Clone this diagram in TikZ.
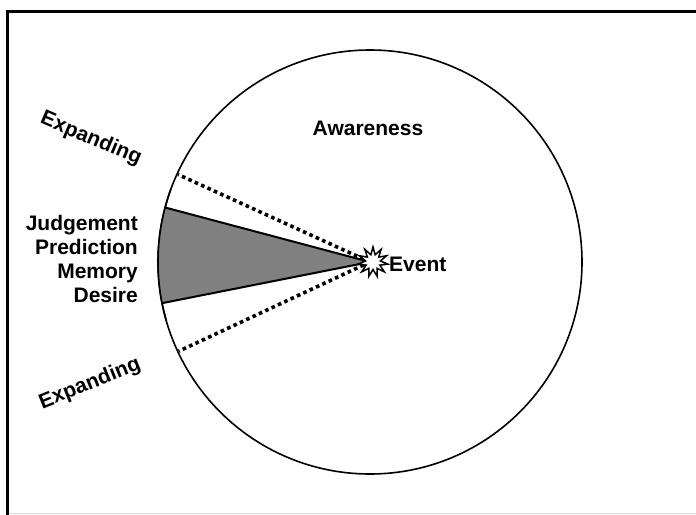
\documentclass[tikz,border=0pt]{standalone}
\usepackage{fontspec}
\setmainfont{Liberation Sans}
\usetikzlibrary{shapes.geometric,calc}
\tikzset{
  lbl/.style={font=\bfseries\fontsize{21}{23.7}\selectfont, inner sep=0pt},
  dotline/.style={line width=3.6pt, dash pattern=on 3.6pt off 3.4pt},
  solidline/.style={line width=2pt},
}
\begin{document}
\begin{tikzpicture}[x=1pt,y=-1pt]
\useasboundingbox (0,0) rectangle (696,514);
\clip (0,0) rectangle (696,514);
% frame
\draw[black!15, line width=1pt] (7,513) -- (700,513);
\draw[line width=3pt] (700,11) -- (7,11) -- (7,520);
% circle
\coordinate (c) at (370,262);
\node[circle, draw, line width=1.6pt, minimum size=424pt, inner sep=0pt] (aw) at (c) {};
% wedge (angles in flipped y system)
\fill[gray!75!black!80] (c) -- ($(c)+(194.9:212)$) arc[start angle=194.9, end angle=168.8, radius=212] -- cycle;
\draw[solidline] (c) -- ($(c)+(194.9:212)$) coordinate (wt);
\draw[solidline] (c) -- ($(c)+(168.8:212)$) coordinate (wb);
\draw[line width=1.6pt] (c) ++(200:212) arc[start angle=200, end angle=164, radius=212];
% dotted lines
\coordinate (dt) at ($(c)+(204.5:211)$);
\coordinate (db) at ($(c)+(155:211)$);
\draw[dotline] (c) -- (dt);
\draw[dotline] (c) -- (db);
% star
\node[star, star points=11, star point ratio=2, minimum size=30pt, inner sep=0pt, draw, line width=1.5pt, fill=white] (ev) at (373,262) {};
\node[lbl, anchor=west] (evt) at (389,264) {Event};
\node[lbl] (awt) at (368,128) {Awareness};
\node[lbl, align=right, anchor=east] (jp) at (138,259) {Judgement\\Prediction\\Memory\\Desire};
\node[lbl, rotate=-23] (ex1) at (91,139) {Expanding};
\node[lbl, rotate=22] (ex2) at (90,384) {Expanding};
\end{tikzpicture}
\end{document}
